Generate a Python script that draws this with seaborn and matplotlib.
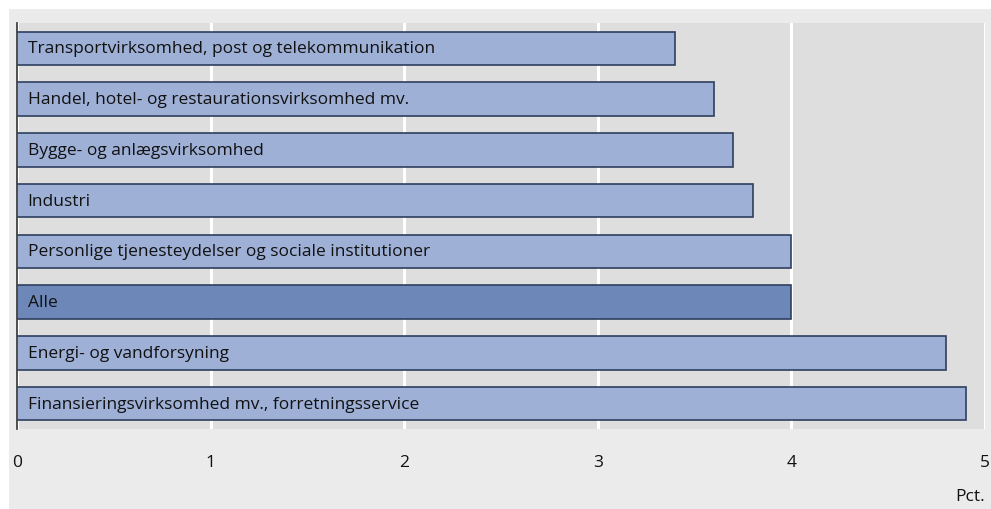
import matplotlib
matplotlib.use("Agg")
import matplotlib.pyplot as plt
import seaborn as sns
import pandas as pd
from matplotlib.patches import Rectangle

# Data
categories = [
    "Transportvirksomhed, post og telekommunikation",
    "Handel, hotel- og restaurationsvirksomhed mv.",
    "Bygge- og anlægsvirksomhed",
    "Industri",
    "Personlige tjenesteydelser og sociale institutioner",
    "Alle",
    "Energi- og vandforsyning",
    "Finansieringsvirksomhed mv., forretningsservice",
]
values = [3.4, 3.6, 3.7, 3.8, 4.0, 4.0, 4.8, 4.9]
xticks = [0, 1, 2, 3, 4, 5]
unit_label = "Pct."

LIGHT = "#9eb0d6"
DARK = "#6c87b8"
EDGE = "#2f3f5f"

df = pd.DataFrame({"category": categories, "value": values})
palette = {c: (DARK if c == "Alle" else LIGHT) for c in categories}

sns.set_theme(style="white")
plt.rcParams["font.family"] = ["Open Sans", "DejaVu Sans"]

W, H = 991, 510
fig = plt.figure(figsize=(W / 100, H / 100), dpi=100, facecolor="white")
# outer light-gray panel, drawn behind the axes
fig.patches.append(Rectangle((9 / W, 0), 1, 1 - 10 / H, transform=fig.transFigure,
                             facecolor="#ebebeb", edgecolor="none", zorder=-10))

ax = fig.add_axes([17 / W, (H - 430) / H, (985 - 17) / W, (430 - 24) / H])
ax.set_facecolor("#dedede")

sns.barplot(data=df, x="value", y="category", hue="category", palette=palette,
            saturation=1, legend=False, orient="h", width=0.66,
            edgecolor=EDGE, linewidth=1.2, ax=ax, zorder=3)

for i, c in enumerate(categories):
    ax.text(0.055, i, c, va="center", ha="left", fontsize=12.5, color="#111111", zorder=4)

ax.set_xlim(0, 5)
ax.set_ylim(len(categories) - 0.5, -0.5)
ax.set_xticks(xticks)
ax.set_xticklabels([str(t) for t in xticks], fontsize=12.5, color="#111111")
ax.tick_params(axis="x", length=0, pad=18)
ax.set_yticks([])
ax.set_xlabel("")
ax.set_ylabel("")
ax.grid(axis="x", color="white", linewidth=2.2, zorder=1)
ax.set_axisbelow(True)
for s in ["top", "right", "bottom"]:
    ax.spines[s].set_visible(False)
ax.spines["left"].set_color("#333333")
ax.spines["left"].set_linewidth(1.2)

fig.text(985 / W, 1 - 497 / H, unit_label, ha="right", va="center", fontsize=12.5, color="#111111")

fig.savefig("out.png", dpi=100, facecolor=fig.get_facecolor())
